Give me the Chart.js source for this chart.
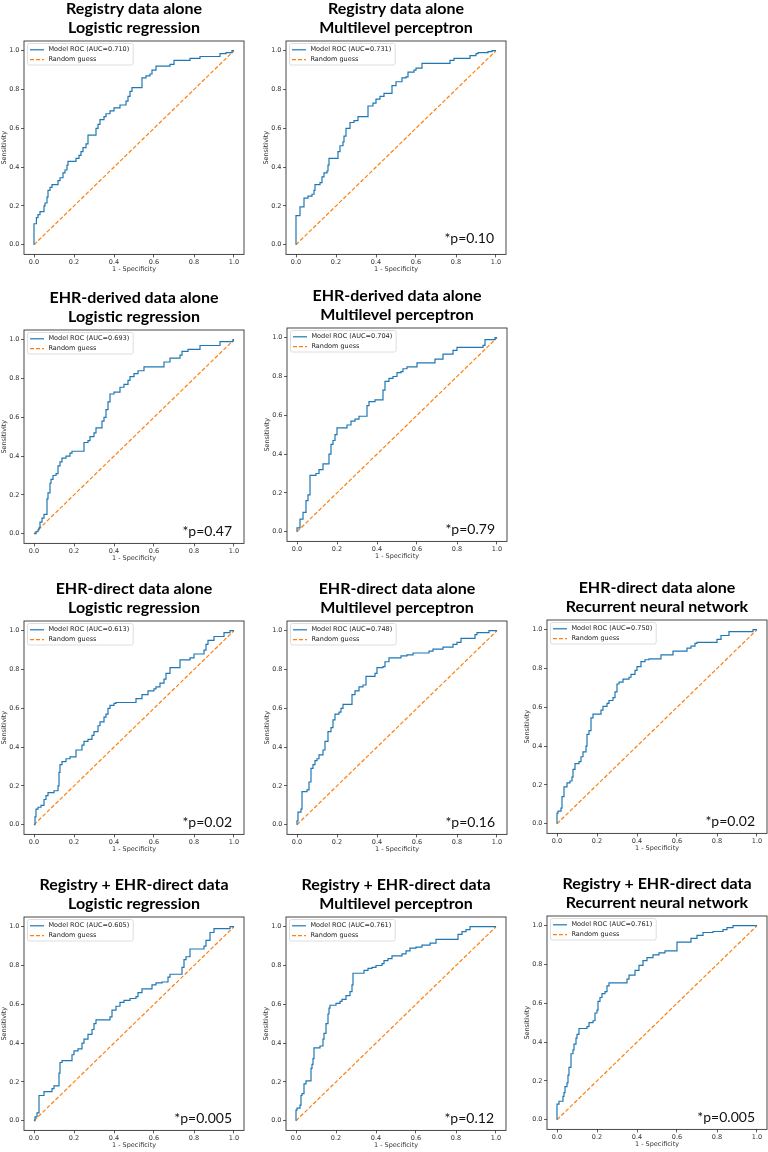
<!DOCTYPE html>
<html>
<head>
<meta charset="utf-8">
<script src="https://cdn.jsdelivr.net/npm/chart.js@4.4.0/dist/chart.umd.min.js"></script>
<style>
  html, body { margin: 0; padding: 0; background: #fff; }
  body { width: 768px; height: 1152px; position: relative; overflow: hidden; }
  canvas { position: absolute; }
</style>
</head>
<body>
<script>
// ---- data ----
const sources = ['Registry data alone', 'Registry data alone',
  'EHR-derived data alone', 'EHR-derived data alone',
  'EHR-direct data alone', 'EHR-direct data alone', 'EHR-direct data alone',
  'Registry + EHR-direct data', 'Registry + EHR-direct data', 'Registry + EHR-direct data'];
const models = ['Logistic regression', 'Multilevel perceptron',
  'Logistic regression', 'Multilevel perceptron',
  'Logistic regression', 'Multilevel perceptron', 'Recurrent neural network',
  'Logistic regression', 'Multilevel perceptron', 'Recurrent neural network'];
const aucs = ['0.710', '0.731', '0.693', '0.704', '0.613', '0.748', '0.750', '0.605', '0.761', '0.761'];
const pvalues = ['', '*p=0.10', '*p=0.47', '*p=0.79', '*p=0.02', '*p=0.16', '*p=0.02', '*p=0.005', '*p=0.12', '*p=0.005'];
const tickValues = [0, 0.2, 0.4, 0.6, 0.8, 1.0];
const diagonal = [[0, 0], [1, 1]];

// ROC corners [1 - specificity, sensitivity]
const rocRegLR = [[0,0],[0,0.108],[0.012,0.14],[0.02,0.155],[0.03,0.17],[0.05,0.2],[0.055,0.215],[0.065,0.245],[0.07,0.28],[0.08,0.295],[0.09,0.31],[0.12,0.33],[0.13,0.345],[0.145,0.37],[0.155,0.385],[0.165,0.41],[0.17,0.43],[0.21,0.445],[0.225,0.46],[0.235,0.48],[0.245,0.5],[0.26,0.52],[0.27,0.565],[0.31,0.6],[0.32,0.62],[0.33,0.645],[0.35,0.66],[0.36,0.675],[0.38,0.69],[0.4,0.705],[0.43,0.72],[0.46,0.74],[0.47,0.765],[0.48,0.79],[0.49,0.81],[0.54,0.86],[0.56,0.87],[0.58,0.88],[0.59,0.9],[0.61,0.92],[0.68,0.93],[0.7,0.95],[0.78,0.96],[0.83,0.97],[0.93,0.985],[0.96,0.99],[0.99,1],[1,1]];
const rocRegMLP = [[0,0],[0,0.15],[0.02,0.195],[0.04,0.24],[0.06,0.25],[0.08,0.26],[0.09,0.28],[0.095,0.31],[0.12,0.32],[0.13,0.35],[0.14,0.37],[0.155,0.38],[0.16,0.41],[0.165,0.445],[0.21,0.48],[0.22,0.51],[0.235,0.53],[0.24,0.56],[0.25,0.6],[0.27,0.63],[0.29,0.64],[0.31,0.66],[0.36,0.715],[0.385,0.73],[0.4,0.75],[0.42,0.765],[0.44,0.78],[0.48,0.82],[0.5,0.84],[0.53,0.86],[0.55,0.865],[0.56,0.89],[0.59,0.9],[0.6,0.91],[0.63,0.935],[0.77,0.95],[0.79,0.96],[0.87,0.975],[0.9,0.985],[0.91,0.99],[0.96,0.995],[0.98,1],[1,1]];
const rocDerLR = [[0,0],[0.01,0.01],[0.02,0.02],[0.025,0.03],[0.03,0.06],[0.04,0.08],[0.05,0.1],[0.065,0.18],[0.07,0.21],[0.08,0.26],[0.085,0.28],[0.095,0.3],[0.11,0.31],[0.12,0.35],[0.13,0.37],[0.14,0.39],[0.16,0.4],[0.18,0.415],[0.19,0.425],[0.25,0.47],[0.27,0.48],[0.28,0.5],[0.3,0.52],[0.31,0.545],[0.34,0.58],[0.35,0.6],[0.36,0.64],[0.37,0.68],[0.38,0.72],[0.4,0.73],[0.43,0.755],[0.45,0.77],[0.47,0.79],[0.48,0.81],[0.5,0.825],[0.52,0.84],[0.55,0.86],[0.65,0.885],[0.68,0.905],[0.73,0.92],[0.74,0.94],[0.77,0.95],[0.83,0.97],[0.93,0.99],[0.995,1],[1,1]];
const rocDerMLP = [[0,0],[0,0.02],[0.015,0.065],[0.03,0.1],[0.045,0.16],[0.055,0.19],[0.065,0.29],[0.095,0.3],[0.11,0.32],[0.13,0.35],[0.16,0.4],[0.17,0.45],[0.18,0.47],[0.19,0.5],[0.2,0.535],[0.25,0.55],[0.27,0.57],[0.29,0.58],[0.31,0.595],[0.35,0.65],[0.36,0.67],[0.39,0.68],[0.43,0.73],[0.44,0.775],[0.46,0.79],[0.48,0.8],[0.5,0.82],[0.52,0.825],[0.53,0.84],[0.55,0.85],[0.6,0.87],[0.69,0.89],[0.73,0.915],[0.78,0.935],[0.8,0.95],[0.93,0.96],[0.94,0.99],[0.99,1],[1,1]];
const rocDirLR = [[0,0],[0.005,0.04],[0.01,0.08],[0.02,0.09],[0.035,0.1],[0.05,0.13],[0.06,0.15],[0.07,0.165],[0.1,0.175],[0.12,0.2],[0.125,0.27],[0.13,0.31],[0.14,0.325],[0.16,0.34],[0.18,0.35],[0.21,0.385],[0.24,0.41],[0.25,0.43],[0.27,0.44],[0.29,0.46],[0.3,0.48],[0.32,0.51],[0.33,0.53],[0.35,0.555],[0.36,0.57],[0.37,0.6],[0.38,0.615],[0.4,0.625],[0.41,0.63],[0.51,0.65],[0.54,0.67],[0.57,0.69],[0.6,0.7],[0.61,0.71],[0.63,0.73],[0.65,0.75],[0.66,0.78],[0.68,0.81],[0.73,0.85],[0.78,0.86],[0.8,0.88],[0.85,0.9],[0.86,0.93],[0.87,0.95],[0.9,0.97],[0.95,0.99],[0.98,1],[1,1]];
const rocDirMLP = [[0,0],[0,0.02],[0.005,0.065],[0.02,0.08],[0.025,0.17],[0.05,0.18],[0.06,0.22],[0.07,0.29],[0.08,0.31],[0.09,0.33],[0.1,0.34],[0.11,0.36],[0.13,0.385],[0.14,0.43],[0.155,0.48],[0.17,0.5],[0.18,0.54],[0.19,0.57],[0.21,0.58],[0.22,0.6],[0.23,0.62],[0.275,0.67],[0.29,0.69],[0.31,0.71],[0.33,0.72],[0.345,0.765],[0.39,0.78],[0.4,0.81],[0.43,0.815],[0.44,0.84],[0.46,0.86],[0.52,0.87],[0.55,0.875],[0.58,0.885],[0.66,0.895],[0.68,0.905],[0.73,0.915],[0.78,0.93],[0.8,0.94],[0.82,0.96],[0.89,0.98],[0.9,0.99],[0.96,1],[1,1]];
const rocDirRNN = [[0,0],[0,0.055],[0.005,0.065],[0.02,0.08],[0.025,0.14],[0.035,0.19],[0.05,0.21],[0.065,0.22],[0.075,0.24],[0.08,0.28],[0.09,0.31],[0.11,0.32],[0.12,0.345],[0.13,0.37],[0.145,0.4],[0.15,0.46],[0.16,0.48],[0.17,0.545],[0.18,0.565],[0.22,0.585],[0.23,0.605],[0.25,0.62],[0.26,0.635],[0.28,0.65],[0.29,0.68],[0.3,0.72],[0.31,0.73],[0.33,0.745],[0.36,0.755],[0.37,0.77],[0.39,0.79],[0.4,0.81],[0.42,0.835],[0.44,0.845],[0.46,0.85],[0.52,0.87],[0.58,0.89],[0.65,0.905],[0.67,0.915],[0.69,0.93],[0.7,0.935],[0.8,0.95],[0.82,0.97],[0.86,0.99],[0.98,1],[1,1]];
const rocComLR = [[0,0],[0.005,0.02],[0.015,0.04],[0.025,0.13],[0.05,0.15],[0.09,0.165],[0.1,0.18],[0.125,0.245],[0.13,0.3],[0.14,0.31],[0.19,0.34],[0.2,0.36],[0.22,0.37],[0.24,0.4],[0.25,0.42],[0.27,0.445],[0.29,0.47],[0.3,0.5],[0.31,0.52],[0.38,0.535],[0.39,0.57],[0.41,0.59],[0.43,0.61],[0.45,0.62],[0.48,0.63],[0.51,0.64],[0.52,0.66],[0.54,0.68],[0.59,0.7],[0.61,0.71],[0.64,0.715],[0.67,0.74],[0.68,0.755],[0.74,0.79],[0.75,0.83],[0.76,0.845],[0.78,0.885],[0.85,0.9],[0.86,0.93],[0.88,0.97],[0.9,0.99],[0.98,1],[1,1]];
const rocComMLP = [[0,0],[0,0.055],[0.005,0.065],[0.02,0.08],[0.025,0.13],[0.03,0.14],[0.04,0.19],[0.05,0.205],[0.075,0.27],[0.08,0.29],[0.085,0.32],[0.09,0.375],[0.12,0.385],[0.135,0.42],[0.14,0.45],[0.15,0.5],[0.16,0.55],[0.165,0.58],[0.17,0.595],[0.2,0.605],[0.22,0.615],[0.23,0.625],[0.25,0.645],[0.27,0.665],[0.28,0.7],[0.285,0.76],[0.34,0.775],[0.36,0.785],[0.38,0.79],[0.4,0.8],[0.43,0.81],[0.44,0.825],[0.46,0.835],[0.48,0.85],[0.53,0.86],[0.55,0.875],[0.57,0.89],[0.6,0.895],[0.63,0.905],[0.67,0.915],[0.7,0.935],[0.81,0.96],[0.83,0.975],[0.85,0.985],[0.87,1],[1,1]];
const rocComRNN = [[0,0],[0,0.08],[0.01,0.095],[0.03,0.12],[0.035,0.14],[0.04,0.17],[0.05,0.19],[0.055,0.23],[0.06,0.27],[0.07,0.34],[0.08,0.36],[0.085,0.39],[0.095,0.42],[0.1,0.44],[0.11,0.47],[0.15,0.48],[0.16,0.5],[0.18,0.51],[0.19,0.55],[0.2,0.565],[0.205,0.61],[0.215,0.63],[0.225,0.65],[0.24,0.66],[0.25,0.69],[0.26,0.705],[0.35,0.725],[0.36,0.745],[0.39,0.77],[0.41,0.795],[0.43,0.82],[0.45,0.835],[0.48,0.85],[0.51,0.86],[0.54,0.87],[0.6,0.915],[0.67,0.935],[0.7,0.95],[0.73,0.965],[0.78,0.97],[0.83,0.98],[0.85,0.99],[0.88,1],[1,1]];
const curves = [rocRegLR, rocRegMLP, rocDerLR, rocDerMLP, rocDirLR, rocDirMLP, rocDirRNN, rocComLR, rocComMLP, rocComRNN];

// where each panel sits on the page (canvas top-left, px)
const panelPos = [[0,-1],[262,-1],[0,288],[263,286],[0,579],[263,579],[523,578],[0,875],[262,875],[523,874]];
const noteY = [0.01, 0.03, 0.01, 0.01, 0.01, 0.01, 0.01, 0.01, 0.01, 0.01];

const blue = '#1f77b4';
const orange = '#ff7f0e';
const tickFont = { family: 'DejaVu Sans', size: 6.5 };

// box around the axes, matplotlib style legend and the p value text
const rocDecor = {
  id: 'rocDecor',
  afterDatasetsDraw(chart, args, opts) {
    const ctx = chart.ctx;
    const a = chart.chartArea;
    ctx.save();
    ctx.strokeStyle = '#333';
    ctx.lineWidth = 0.9;
    ctx.strokeRect(a.left, a.top, a.width, a.height);

    // legend
    ctx.font = '6.5px "DejaVu Sans"';
    const sets = chart.data.datasets;
    const tw = Math.max(...sets.map(d => ctx.measureText(d.label).width));
    const lx = a.left + 3.5, ly = a.top + 2.5;
    const lw = 21 + tw + 4, lh = 21.5;
    ctx.beginPath();
    ctx.roundRect(lx, ly, lw, lh, 2);
    ctx.fillStyle = 'rgba(255,255,255,0.85)';
    ctx.fill();
    ctx.strokeStyle = '#d6d6d6';
    ctx.lineWidth = 0.8;
    ctx.stroke();
    sets.forEach((d, i) => {
      const yy = ly + 6.3 + i * 9.8;
      ctx.beginPath();
      ctx.setLineDash(d.borderDash || []);
      ctx.strokeStyle = d.borderColor;
      ctx.lineWidth = 1.2;
      ctx.moveTo(lx + 2.5, yy);
      ctx.lineTo(lx + 16.5, yy);
      ctx.stroke();
      ctx.setLineDash([]);
      ctx.fillStyle = '#222';
      ctx.textAlign = 'left';
      ctx.textBaseline = 'middle';
      ctx.fillText(d.label, lx + 21, yy);
    });

    if (opts.text) {
      const x = chart.scales.x, y = chart.scales.y;
      ctx.font = '14px Lato';
      ctx.fillStyle = '#111';
      ctx.textAlign = 'right';
      ctx.textBaseline = 'middle';
      ctx.fillText(opts.text, x.getPixelForValue(0.99), y.getPixelForValue(opts.y));
    }
    ctx.restore();
  }
};

function makePanel(i) {
  const cv = document.createElement('canvas');
  cv.width = 252;
  cv.height = 286;
  cv.style.left = panelPos[i][0] + 'px';
  cv.style.top = panelPos[i][1] + 'px';
  document.body.appendChild(cv);

  new Chart(cv, {
    type: 'line',
    data: {
      datasets: [
        {
          label: 'Model ROC (AUC=' + aucs[i] + ')',
          data: curves[i].map(p => ({ x: p[0], y: p[1] })),
          borderColor: blue,
          borderWidth: 1.2,
          pointRadius: 0,
          stepped: true,
          fill: false
        },
        {
          label: 'Random guess',
          data: diagonal.map(p => ({ x: p[0], y: p[1] })),
          borderColor: orange,
          borderWidth: 1.2,
          borderDash: [4, 2],
          pointRadius: 0,
          fill: false
        }
      ]
    },
    options: {
      responsive: false,
      animation: false,
      layout: { padding: { left: 0, right: 8, top: 0, bottom: 0 } },
      scales: {
        x: {
          type: 'linear',
          min: -0.05,
          max: 1.05,
          afterBuildTicks: s => { s.ticks = tickValues.map(v => ({ value: v })); },
          afterFit: s => { s.height = 30.6; },
          border: { display: false },
          grid: { drawOnChartArea: false, drawTicks: true, tickLength: 3, color: '#333', lineWidth: 0.8 },
          ticks: { font: tickFont, color: '#333', padding: 1.5, maxRotation: 0, autoSkip: false,
                   callback: v => v.toFixed(1) },
          title: { display: true, text: '1 - Specificity', color: '#333',
                   font: { family: 'DejaVu Sans', size: 6.5 }, padding: { top: 0, bottom: 11.8 } }
        },
        y: {
          type: 'linear',
          min: -0.05,
          max: 1.05,
          afterBuildTicks: s => { s.ticks = tickValues.map(v => ({ value: v })); },
          afterFit: s => { s.width = 24; },
          border: { display: false },
          grid: { drawOnChartArea: false, drawTicks: true, tickLength: 3, color: '#333', lineWidth: 0.8 },
          ticks: { font: tickFont, color: '#333', padding: 1.5, autoSkip: false,
                   callback: v => v.toFixed(1) },
          title: { display: true, text: 'Sensitivity', color: '#333',
                   font: { family: 'DejaVu Sans', size: 6.5 }, padding: { top: 0, bottom: 0 } }
        }
      },
      plugins: {
        legend: { display: false },
        tooltip: { enabled: false },
        title: {
          display: true,
          text: [sources[i], models[i]],
          fullSize: false,
          color: '#000',
          font: { family: 'Lato', size: 16, weight: 'bold', lineHeight: 1.2 },
          padding: { top: 0, bottom: 3.6 }
        },
        rocDecor: { text: pvalues[i], y: noteY[i] }
      }
    },
    plugins: [rocDecor]
  });
}

for (let i = 0; i < curves.length; i++) makePanel(i);
</script>
</body>
</html>
